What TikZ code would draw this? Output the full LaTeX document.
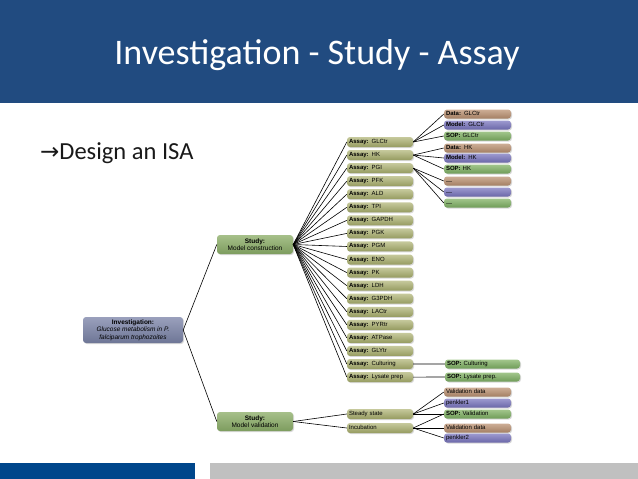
\documentclass[tikz,border=0pt]{standalone}
\usepackage{fontspec}
\setmainfont{Liberation Sans}
\newfontfamily\titlefont{Carlito}
\newfontfamily\symfont{DejaVu Sans}
\usepackage{tikz}
\usetikzlibrary{shadows}
\definecolor{headblue}{HTML}{214B80}
\definecolor{footblue}{HTML}{00468B}
\definecolor{footgray}{HTML}{C0C0C0}
\definecolor{assaytop}{HTML}{C6C99C}
\definecolor{assaybot}{HTML}{959B60}
\definecolor{datatop}{HTML}{CDAE96}
\definecolor{databot}{HTML}{A47F63}
\definecolor{modtop}{HTML}{9D9AD0}
\definecolor{modbot}{HTML}{6B67A8}
\definecolor{soptop}{HTML}{A2C68C}
\definecolor{sopbot}{HTML}{6F9C58}
\definecolor{studtop}{HTML}{A6C08A}
\definecolor{studbot}{HTML}{7D9C5E}
\definecolor{invtop}{HTML}{9AA0BC}
\definecolor{invbot}{HTML}{6E7696}
\tikzset{box/.style={rounded corners=3pt, inner xsep=2pt, inner ysep=0pt,
        font=\fontsize{6}{7}\selectfont,
        drop shadow={opacity=0.3, shadow xshift=1pt, shadow yshift=-1pt}},
    small/.style={box, text height=4.2pt, text depth=1.2pt},
    assay/.style={small, minimum height=10pt, text width=62pt, align=left,
        top color=assaytop, bottom color=assaybot},
    datbox/.style={small, minimum height=9pt, text width=63pt, align=left,
        top color=datatop, bottom color=databot},
    modbox/.style={small, minimum height=9pt, text width=63pt, align=left,
        top color=modtop, bottom color=modbot},
    sopbox/.style={small, minimum height=9pt, text width=63pt, align=left,
        top color=soptop, bottom color=sopbot},
    study/.style={box, minimum height=19pt, minimum width=76pt, align=center,
        font=\fontsize{6.5}{7.5}\selectfont, top color=studtop, bottom color=studbot},
    invest/.style={box, minimum height=26pt, minimum width=100pt, align=center,
        font=\fontsize{6.5}{7.5}\selectfont, top color=invtop, bottom color=invbot},
    link/.style={draw=black, line width=0.6pt}}

\begin{document}
\begin{tikzpicture}[x=1pt, y=-1pt]
    \useasboundingbox (0,0) rectangle (638,479);
    \fill[headblue] (0,0) rectangle (638,103);
    \fill[footblue] (0,463) rectangle (195,479);
    \fill[footgray] (210,463) rectangle (638,479);
    \node[text=white, font=\titlefont\fontsize{36}{40}\selectfont] (title) at (317,55)
        {Investigation - Study - Assay};
    \node[anchor=base west, inner sep=0pt, text=black!90, font=\titlefont\fontsize{24.5}{28}\selectfont]
        (design) at (40,159) {{\symfont\fontsize{23}{26}\selectfont →}Design an ISA};

    \node[invest] (inv) at (133,330)
        {\textbf{Investigation:}\\\textit{Glucose metabolism in P.}\\\textit{falciparum trophozoites}};
    \node[study] (mc) at (255,244.5) {\textbf{Study:}\\Model construction};
    \node[study] (mv) at (255,421.5) {\textbf{Study:}\\Model validation};
    \draw[link] (inv.east) -- (mc.west);
    \draw[link] (inv.east) -- (mv.west);

    \foreach \name [count=\i] in {GLCtr,HK,PGI,PFK,ALD,TPI,GAPDH,PGK,PGM,ENO,PK,LDH,
        G3PDH,LACtr,PYRtr,ATPase,GLYtr,Culturing,Lysate prep}
    {
        \node[assay] (a\i) at (380,128.94+13.06*\i) {\textbf{Assay:} \name};
        \draw[link] (mc.east) -- (a\i.west);
    }

    \node[datbox] (d1) at (477.5,114) {\textbf{Data:} GLCtr};
    \node[modbox] (m1) at (477.5,125) {\textbf{Model:} GLCtr};
    \node[sopbox] (s1) at (477.5,136) {\textbf{SOP:} GLCtr};
    \node[datbox] (d2) at (477.5,148) {\textbf{Data:} HK};
    \node[modbox] (m2) at (477.5,158) {\textbf{Model:} HK};
    \node[sopbox] (s2) at (477.5,169) {\textbf{SOP:} HK};
    \node[datbox] (d3) at (477.5,181) {\raisebox{-1pt}{---}};
    \node[modbox] (m3) at (477.5,192) {\raisebox{-1pt}{---}};
    \node[sopbox] (s3) at (477.5,203) {\raisebox{-1pt}{---}};
    \foreach \i in {1,2,3}
    {
        \draw[link] (a\i.east) -- (d\i.west);
        \draw[link] (a\i.east) -- (m\i.west);
        \draw[link] (a\i.east) -- (s\i.west);
    }

    \node[sopbox, text width=71pt] (sc) at (482.5,364) {\textbf{SOP:} Culturing};
    \node[sopbox, text width=71pt] (sl) at (482.5,377) {\textbf{SOP:} Lysate prep.};
    \draw[link] (a18.east) -- (sc.west);
    \draw[link] (a19.east) -- (sl.west);

    \node[assay] (ss) at (380,414) {Steady state};
    \node[assay] (inc) at (380,428) {Incubation};
    \draw[link] (mv.east) -- (ss.west);
    \draw[link] (mv.east) -- (inc.west);

    \node[datbox] (vd1) at (477.5,392) {Validation data};
    \node[modbox] (pk1) at (477.5,403) {penkler1};
    \node[sopbox] (sv) at (477.5,414) {\textbf{SOP:} Validation};
    \node[datbox] (vd2) at (477.5,428) {Validation data};
    \node[modbox] (pk2) at (477.5,438) {penkler2};
    \draw[link] (ss.east) -- (vd1.west);
    \draw[link] (ss.east) -- (pk1.west);
    \draw[link] (ss.east) -- (sv.west);
    \draw[link] (inc.east) -- (sv.west);
    \draw[link] (inc.east) -- (vd2.west);
    \draw[link] (inc.east) -- (pk2.west);
\end{tikzpicture}
\end{document}
